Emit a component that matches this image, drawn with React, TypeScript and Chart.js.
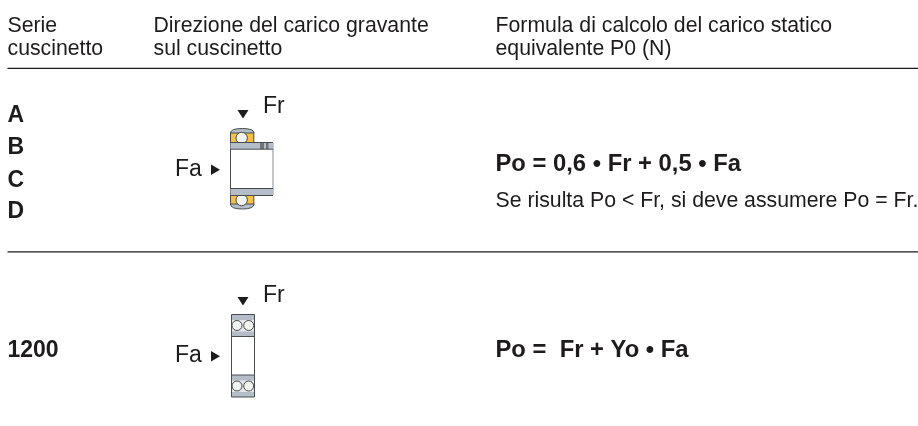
import React, { useEffect, useRef } from "react";
import { Chart, registerables } from "chart.js";

Chart.register(...registerables);

const FONT = '"Liberation Sans", Arial, sans-serif';
const INK = "#1d1b1c";
const GRAY = "#b4bdc8";
const DARK = "#4a4d50";
const YELLOW = "#f6c23e";
const COLUMN_HEADERS = [
  { lines: ["Serie", "cuscinetto"], x: 7.5 },
  { lines: ["Direzione del carico gravante", "sul cuscinetto"], x: 153.5 },
  { lines: ["Formula di calcolo del carico statico", "equivalente P0 (N)"], x: 495.5 },
];
const SERIES_UPPER = ["A", "B", "C", "D"];
const SERIES_UPPER_Y = [122, 154, 186.5, 218];
const RULE_Y = [68.3, 251.8];

const plugin = {
  id: "table",
  afterDatasetsDraw(chart: any) {
    const { ctx, scales } = chart;
    const X = (v: number) => scales.x.getPixelForValue(v);
    const Y = (v: number) => scales.y.getPixelForValue(v);
    const text = (s: string, x: number, y: number, size = 21.25, bold = false, color = INK) => {
      ctx.font = `${bold ? "bold " : ""}${size}px ${FONT}`;
      ctx.fillStyle = color;
      ctx.textBaseline = "alphabetic";
      ctx.fillText(s, X(x), Y(y));
    };
    const tri = (a: number[], b: number[], c: number[]) => {
      ctx.fillStyle = INK;
      ctx.beginPath();
      ctx.moveTo(X(a[0]), Y(a[1]));
      ctx.lineTo(X(b[0]), Y(b[1]));
      ctx.lineTo(X(c[0]), Y(c[1]));
      ctx.closePath();
      ctx.fill();
    };
    const rect = (x0: number, y0: number, x1: number, y1: number, fill: string) => {
      ctx.fillStyle = fill;
      ctx.fillRect(X(x0), Y(y0), x1 - x0, y1 - y0);
    };
    const seg = (x0: number, y0: number, x1: number, y1: number, color = DARK) => {
      ctx.strokeStyle = color;
      ctx.lineWidth = 1;
      ctx.beginPath();
      ctx.moveTo(X(x0), Y(y0));
      ctx.lineTo(X(x1), Y(y1));
      ctx.stroke();
    };
    const ball = (x: number, y: number, r: number, fill = "#f2f4f2") => {
      ctx.beginPath();
      ctx.arc(X(x), Y(y), r, 0, Math.PI * 2);
      ctx.fillStyle = fill;
      ctx.fill();
      ctx.strokeStyle = DARK;
      ctx.lineWidth = 1;
      ctx.stroke();
    };
    const cap = (x0: number, x1: number, yFlat: number, yEdge: number) => {
      const mid = (x0 + x1) / 2;
      ctx.beginPath();
      ctx.moveTo(X(x0), Y(yFlat));
      ctx.quadraticCurveTo(X(x0), Y(yEdge), X(mid), Y(yEdge));
      ctx.quadraticCurveTo(X(x1), Y(yEdge), X(x1), Y(yFlat));
      ctx.closePath();
      ctx.fillStyle = GRAY;
      ctx.fill();
      ctx.strokeStyle = DARK;
      ctx.lineWidth = 1;
      ctx.stroke();
    };

    COLUMN_HEADERS.forEach((h) => {
      text(h.lines[0], h.x, 32);
      text(h.lines[1], h.x, 55);
    });
    SERIES_UPPER.forEach((s, i) => text(s, 7.5, SERIES_UPPER_Y[i], 23, true));
    text("1200", 7.5, 356.5, 23, true);

    text("Fr", 263, 113.3, 23);
    text("Fa", 175, 175.7, 23);
    tri([237.5, 110], [248.5, 110], [243, 118.5]);
    tri([211, 164.5], [211, 175], [220, 169.8]);

    text("Po = 0,6 • Fr + 0,5 • Fa", 495.5, 171, 23.8, true);
    text("Se risulta Po < Fr, si deve assumere Po = Fr.", 495.5, 206.5, 21.25);

    text("Fr", 263, 301.7, 23);
    text("Fa", 175, 361.7, 23);
    tri([237.5, 297], [248.5, 297], [243, 305.5]);
    tri([211, 351], [211, 361.5], [220, 356.3]);
    text("Po =  Fr + Yo • Fa", 495.5, 356.7, 23.8, true);

    // bearing with collar
    seg(273, 143, 273, 195, "#8a8d90");
    seg(230.5, 132, 230.5, 205);
    rect(231, 132, 254, 143, YELLOW);
    rect(231, 195, 254, 205, YELLOW);
    seg(253.8, 132, 253.8, 143);
    seg(253.8, 195, 253.8, 205);
    cap(230.5, 254, 133, 128.5);
    cap(230.5, 254, 204, 209);
    ball(241.7, 138, 5.7);
    ball(241.7, 200, 5.7);
    rect(230.5, 142.5, 273, 149.2, GRAY);
    rect(230.5, 188.5, 273, 195.5, GRAY);
    rect(260, 142, 264, 149.2, "#6f7479");
    rect(266, 142, 268.5, 149.2, "#6f7479");
    [142.5, 149.2, 188.5, 195.5].forEach((y) => seg(230.5, y, 273, y));

    // double row bearing
    rect(231.5, 314.5, 254.5, 397, GRAY);
    rect(231.5, 336.5, 254.5, 375, "#fff");
    rect(231.5, 320, 254.5, 331.5, "#e4e7e8");
    rect(231.5, 380.5, 254.5, 392, "#e4e7e8");
    ball(237, 325.5, 5);
    ball(248.7, 325.5, 5);
    ball(237, 386, 5);
    ball(248.7, 386, 5);
    seg(231.5, 314.5, 254.5, 314.5);
    seg(231.5, 397, 254.5, 397);
    seg(231.5, 314.5, 231.5, 397);
    seg(254.5, 314.5, 254.5, 397);
    [336.5, 375].forEach((y) => seg(231.5, y, 254.5, y));
  },
};

export default function App() {
  const ref = useRef<HTMLCanvasElement>(null);
  useEffect(() => {
    const chart = new Chart(ref.current!, {
      type: "scatter",
      data: {
        datasets: RULE_Y.map((y) => ({
          data: [{ x: 7.5, y }, { x: 918, y }],
          showLine: true,
          borderColor: INK,
          borderWidth: 1.3,
          pointRadius: 0,
        })),
      },
      options: {
        responsive: false,
        animation: false,
        layout: { padding: 0 },
        plugins: { legend: { display: false }, tooltip: { enabled: false } },
        scales: {
          x: { type: "linear", min: 0, max: 918, display: false },
          y: { type: "linear", min: 0, max: 426, reverse: true, display: false },
        },
      },
      plugins: [plugin],
    } as any);
    return () => chart.destroy();
  }, []);
  return (
    <div style={{ position: "absolute", left: 0, top: 0, width: 918, height: 426, background: "#fff" }}>
      <canvas ref={ref} width={918} height={426} style={{ display: "block" }} />
    </div>
  );
}
